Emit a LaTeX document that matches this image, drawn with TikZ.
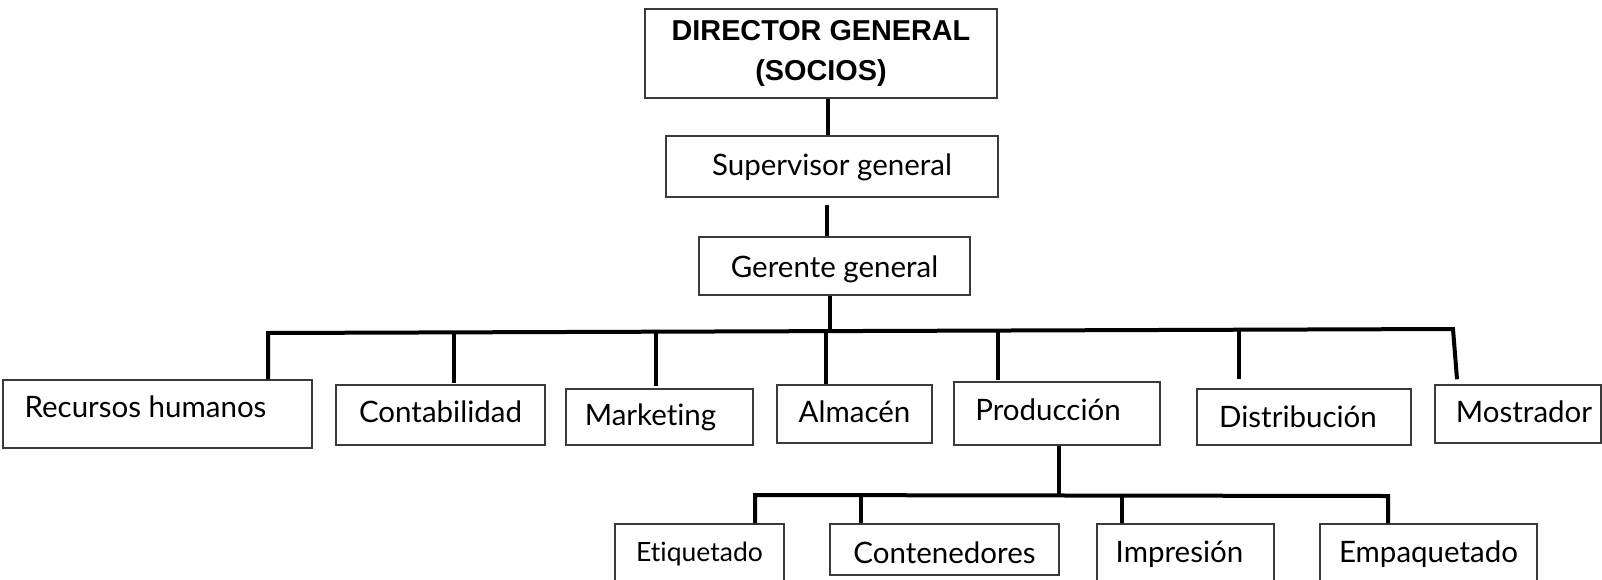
\documentclass[tikz,border=0pt]{standalone}
\usepackage{fontspec}
\setmainfont{Lato}[Ligatures={NoCommon}]
\newfontfamily\headfont{Liberation Sans}
\usepackage{tikz}
\usetikzlibrary{calc}
\definecolor{boxline}{HTML}{3A3A3A}

\tikzset{
  unit/.style={draw=boxline, line width=1.4pt, inner sep=2pt,
    font=\fontsize{29.5}{34}\selectfont},
  bl/.style={/utils/exec={\pgfmathsetmacro\blh{15+#1}\pgfmathsetmacro\bld{15-#1}},
    text height=\blh pt, text depth=\bld pt},
  conn/.style={line width=4pt, black},
}

\begin{document}
\begin{tikzpicture}[x=1pt, y=-1pt]
  \useasboundingbox (0,0) rectangle (1602,579);
  \clip (0,0) rectangle (1602,579);

  % upper levels
  \node[unit, minimum width=352, minimum height=89, align=center,
    font=\headfont\bfseries\fontsize{28.8}{40}\selectfont] (dir) at (821,53.5)
    {DIRECTOR GENERAL\\(SOCIOS)};
  \node[unit, bl=8.5, minimum width=332, minimum height=61] (sup) at (832,166.5) {Supervisor general};
  \node[unit, bl=11, minimum width=271, minimum height=58] (ger) at (834.5,266) {Gerente general};

  % departments
  \node[unit, bl=3, minimum width=309, minimum height=68] (rh) at (157.5,414) {\hspace*{-24pt}Recursos humanos};
  \node[unit, bl=7, minimum width=209, minimum height=60] (cont) at (440.5,415) {Contabilidad};
  \node[unit, bl=8, minimum width=187, minimum height=56] (mkt) at (659.5,417) {\hspace*{-18pt}Marketing};
  \node[unit, bl=8, minimum width=155, minimum height=58] (alm) at (854.5,414) {Almacén};
  \node[unit, bl=6.5, minimum width=206, minimum height=63] (prod) at (1057,413.5) {\hspace*{-18pt}Producción};
  \node[unit, bl=10, minimum width=214, minimum height=56] (dist) at (1304,417) {\hspace*{-12pt}Distribución};
  \node[unit, bl=8, minimum width=166, minimum height=58] (most) at (1518,414) {Mostrador\hspace*{-12pt}};

  % production areas
  \node[unit, bl=-1, minimum width=169, minimum height=76,
    font=\fontsize{26.5}{30}\selectfont] (etiq) at (699.5,562) {Etiquetado};
  \node[unit, bl=13.5, minimum width=229, minimum height=51] (conten) at (944.5,549.5) {Contenedores};
  \node[unit, bl=0, minimum width=177, minimum height=76] (imp) at (1185.5,562) {\hspace*{-12pt}Impresión};
  \node[unit, bl=0, minimum width=217, minimum height=76] (emp) at (1428.5,562) {Empaquetado};

  \coordinate (c1) at (828,0);
  \coordinate (c2) at (827,0);
  \coordinate (c3) at (830,331);
  \draw[conn] (c1 |- dir.south) -- (c1 |- sup.north);
  \draw[conn, shorten <=7pt] (c2 |- sup.south) -- (c2 |- ger.north);
  \draw[conn] (c3 |- ger.south) -- (c3);

  \coordinate (busL) at (268,333);
  \coordinate (busR) at (1453,329);
  \draw[conn] (busL |- rh.north) -- (busL) -- (busR) -- ([xshift=-61pt, yshift=5pt]most.north);
  \foreach \b/\x/\gap in {cont/454/1, mkt/656/2, alm/826/0, prod/998/1, dist/1239/9}{
    \coordinate (top) at (\x,331);
    \draw[conn, shorten >=\gap pt] (top) -- (top |- \b.north);
  }

  \coordinate (lb) at (1059,495);
  \coordinate (lbL) at (755,495);
  \coordinate (lbR) at (1388,496);
  \draw[conn] (lb |- prod.south) -- (lb);
  \draw[conn] (lbL |- etiq.north) -- (lbL) -- (lbR) -- (lbR |- emp.north);
  \foreach \b/\x in {conten/861, imp/1122}{
    \coordinate (top) at (\x,495);
    \draw[conn] (top) -- (top |- \b.north);
  }
\end{tikzpicture}
\end{document}
